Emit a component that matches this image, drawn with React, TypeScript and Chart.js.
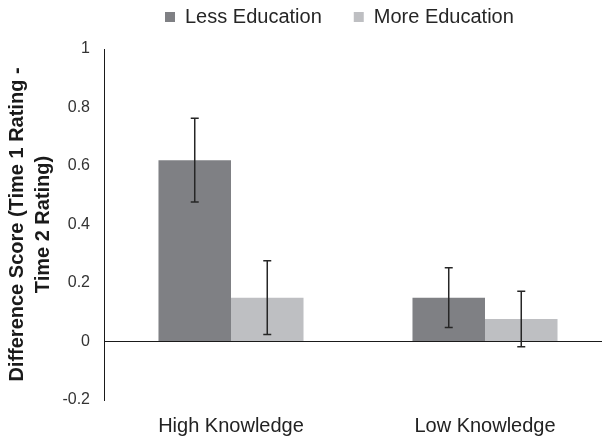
import { useEffect, useRef } from 'react';
import { Chart, registerables } from 'chart.js';

Chart.register(...registerables);

const categories = ['High Knowledge', 'Low Knowledge'];
const seriesNames = ['Less Education', 'More Education'];
const lessEducation = [0.62, 0.15];
const moreEducation = [0.15, 0.077];
const lessEducationError = [0.143, 0.102];
const moreEducationError = [0.126, 0.095];
const yTickValues = [-0.2, 0, 0.2, 0.4, 0.6, 0.8, 1];
const yTickLabels = ['-0.2', '0', '0.2', '0.4', '0.6', '0.8', '1'];
const yTitle = ['Difference Score (Time 1 Rating -', 'Time 2 Rating)'];

const FONT = "'Liberation Sans', Arial, Helvetica, sans-serif";

const errorBarPlugin = {
  id: 'errorBars',
  afterDatasetsDraw(chart: any) {
    const ctx = chart.ctx;
    const yScale = chart.scales.y;
    chart.data.datasets.forEach((ds: any, di: number) => {
      const meta = chart.getDatasetMeta(di);
      const errs: number[] = ds.errorBars || [];
      meta.data.forEach((bar: any, i: number) => {
        const v = ds.data[i];
        const e = errs[i];
        if (e == null) return;
        const x = bar.x;
        const yHi = yScale.getPixelForValue(v + e);
        const yLo = yScale.getPixelForValue(v - e);
        ctx.save();
        ctx.strokeStyle = '#262626';
        ctx.lineWidth = 1.5;
        ctx.beginPath();
        ctx.moveTo(x, yHi);
        ctx.lineTo(x, yLo);
        ctx.moveTo(x - 4, yHi);
        ctx.lineTo(x + 4, yHi);
        ctx.moveTo(x - 4, yLo);
        ctx.lineTo(x + 4, yLo);
        ctx.stroke();
        ctx.restore();
      });
    });
  },
};

const legendPlacePlugin = {
  id: 'legendPlace',
  afterLayout(chart: any) {
    const lg = chart.legend;
    if (!lg) return;
    const w = lg.width;
    const h = lg.height;
    lg.left = 133;
    lg.right = 133 + w;
    lg.top = -25;
    lg.bottom = lg.top + h;
  },
};

export default function App() {
  const ref = useRef<HTMLCanvasElement | null>(null);

  useEffect(() => {
    if (!ref.current) return;
    Chart.defaults.font.family = FONT;
    const chart = new Chart(ref.current, {
      type: 'bar',
      data: {
        labels: categories,
        datasets: [
          {
            label: seriesNames[0],
            data: lessEducation,
            backgroundColor: '#7f8084',
            borderColor: '#7f8084',
            borderWidth: 0,
            categoryPercentage: 0.571,
            barPercentage: 1,
            errorBars: lessEducationError,
          } as any,
          {
            label: seriesNames[1],
            data: moreEducation,
            backgroundColor: '#bebfc2',
            borderColor: '#bebfc2',
            borderWidth: 0,
            categoryPercentage: 0.571,
            barPercentage: 1,
            errorBars: moreEducationError,
          } as any,
        ],
      },
      options: {
        animation: false,
        responsive: true,
        maintainAspectRatio: false,
        layout: { padding: { left: 0, right: 0, top: 0, bottom: 3 } },
        plugins: {
          legend: {
            position: 'top',
            align: 'start',
            maxHeight: 49,
            labels: {
              boxWidth: 10,
              boxHeight: 10,
              padding: 32,
              color: '#262626',
              font: { size: 20, family: FONT },
            },
          },
          tooltip: { enabled: false },
        },
        scales: {
          x: {
            grid: { display: false, drawTicks: false },
            border: { display: false },
            afterFit: (s: any) => {
              s.height = 38;
            },
            ticks: { padding: 14, color: '#222222', font: { size: 20, family: FONT } },
          },
          y: {
            min: -0.2,
            max: 1,
            afterBuildTicks: (s: any) => {
              s.ticks = yTickValues.map((v) => ({ value: v }));
            },
            afterFit: (s: any) => {
              s.width = 104;
            },
            grid: {
              drawTicks: false,
              color: (c: any) => (c.tick && Math.abs(c.tick.value) < 1e-9 ? '#1a1a1a' : 'rgba(0,0,0,0)'),
              lineWidth: 1,
            },
            border: { display: true, color: '#1a1a1a', width: 1 },
            ticks: {
              padding: 14,
              color: '#333333',
              font: { size: 16, family: FONT },
              callback: (v: any) => {
                const idx = yTickValues.findIndex((t) => Math.abs(t - Number(v)) < 1e-9);
                return idx >= 0 ? yTickLabels[idx] : '';
              },
            },
            title: {
              display: true,
              text: yTitle,
              color: '#1a1a1a',
              font: { size: 20, weight: 'bold', family: FONT, lineHeight: 1.3 },
              padding: { top: 4, bottom: 0 },
            },
          },
        },
      },
      plugins: [errorBarPlugin, legendPlacePlugin],
    });
    return () => chart.destroy();
  }, []);

  return (
    <div
      style={{
        position: 'fixed',
        left: 0,
        top: 0,
        width: 602,
        height: 441,
        overflow: 'hidden',
        background: '#ffffff',
      }}
    >
      <div style={{ position: 'relative', width: 612, height: 441 }}>
        <canvas ref={ref} />
      </div>
    </div>
  );
}
